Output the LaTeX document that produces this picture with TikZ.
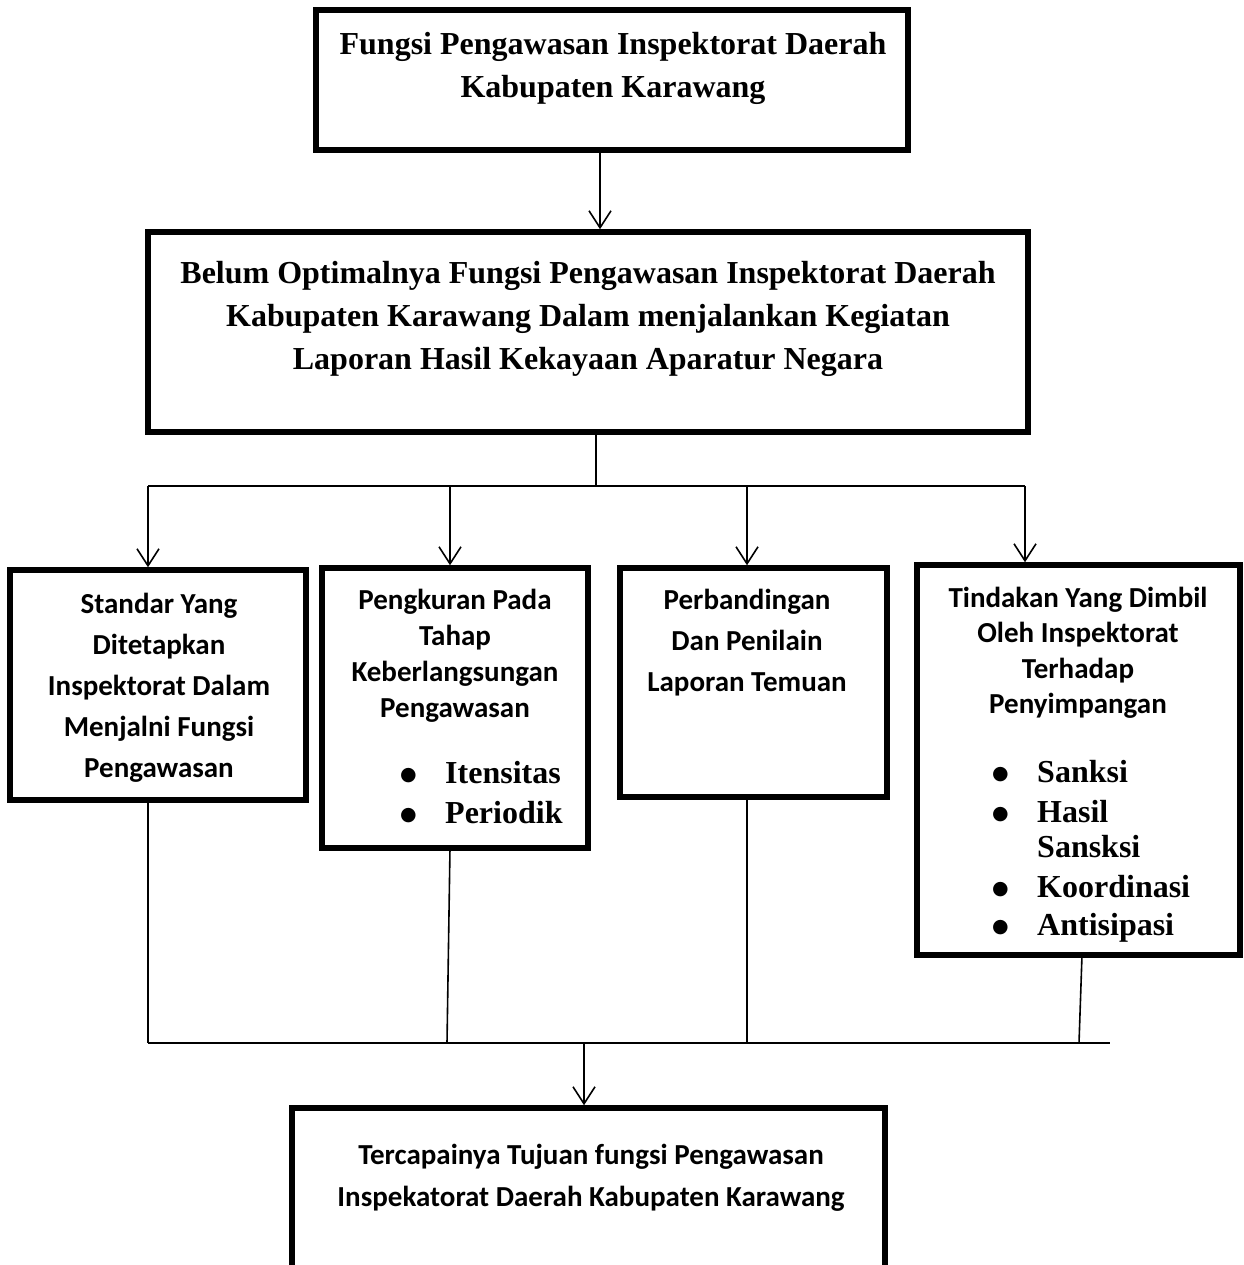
\documentclass[tikz,border=0pt]{standalone}
\usepackage{fontspec}
\setmainfont{Liberation Serif}
\newfontfamily\calfont{Carlito}
\newfontfamily\symfont{DejaVu Sans}
\usetikzlibrary{arrows.meta}
\newcommand{\bb}{\makebox[45pt][l]{\raisebox{3pt}{\symfont\fontsize{19}{19}\selectfont ●}}}
\begin{document}
\begin{tikzpicture}[x=1pt,y=-1pt,
  box/.style={draw, line width=5.5pt, rectangle, inner sep=0pt},
  conn/.style={line width=1.6pt},
  arr/.style={conn, -{Straight Barb[length=17pt,width=22pt,line width=1.6pt]}},
  sert/.style={font=\fontsize{32}{43}\selectfont\bfseries, align=center, anchor=base, inner sep=0pt},
  sant/.style={font=\calfont\fontsize{29}{41}\selectfont\bfseries, align=center, anchor=base, inner sep=0pt},
  bul/.style={font=\fontsize{32}{40}\selectfont\bfseries, align=left, anchor=base west, inner sep=0pt},
]
\useasboundingbox (0,0) rectangle (1243,1265);
\fill[white] (0,0) rectangle (1243,1265);

% boxes
\node[box, minimum width=592, minimum height=140] (top) at (612,80) {};
\node[box, minimum width=880, minimum height=200] (mid) at (588,332) {};
\node[box, minimum width=296, minimum height=230] (bA) at (158,685) {};
\node[box, minimum width=266, minimum height=280] (bB) at (455,708) {};
\node[box, minimum width=267, minimum height=229] (bC) at (753.5,682.5) {};
\node[box, minimum width=323, minimum height=390] (bD) at (1078.5,760) {};
\node[box, minimum width=593, minimum height=184] (bot) at (588.5,1200) {};

% texts (base anchor = baseline of last line)
\node[sert] (ttop) at (613,98) {Fungsi Pengawasan Inspektorat Daerah\\Kabupaten Karawang};
\node[sert] (tmid) at (588,369) {Belum Optimalnya Fungsi Pengawasan Inspektorat Daerah\\Kabupaten Karawang Dalam menjalankan Kegiatan\\Laporan Hasil Kekayaan Aparatur Negara};
\node[sant] (tA) at (159,777) {Standar Yang\\Ditetapkan\\Inspektorat Dalam\\Menjalni Fungsi\\Pengawasan};
\node[sant, font=\calfont\fontsize{29}{36}\selectfont\bfseries] (tB) at (455,717) {Pengkuran Pada\\Tahap\\Keberlangsungan\\Pengawasan};
\node[bul] (lB) at (400,823) {\bb Itensitas\\\bb Periodik};
\node[sant] (tC) at (747,691) {Perbandingan\\Dan Penilain\\Laporan Temuan};
\node[sant, font=\calfont\fontsize{29}{35.5}\selectfont\bfseries] (tD) at (1078,713.5) {Tindakan Yang Dimbil\\Oleh Inspektorat\\Terhadap\\Penyimpangan};
\node[bul, font=\fontsize{32}{35}\selectfont\bfseries] (lD) at (992,935) {\bb Sanksi\\[5pt]\bb Hasil\\\makebox[45pt][l]{}Sansksi\\[5pt]\bb Koordinasi\\[3pt]\bb Antisipasi};
\node[sant, font=\calfont\fontsize{29}{42}\selectfont\bfseries] (tbot) at (591,1206) {Tercapainya Tujuan fungsi Pengawasan\\Inspekatorat Daerah Kabupaten Karawang};

% connectors top
\coordinate (a0) at (600,150);
\draw[arr] (a0 |- top.south) -- (a0 |- mid.north);
\coordinate (s0) at (596,486);
\coordinate (sA) at (148,486);
\coordinate (sB) at (450,486);
\coordinate (sC) at (747,486);
\coordinate (sD) at (1025,486);
\draw[conn] (mid.south -| s0) -- (s0);
\draw[conn] (sA) -- (sD);
\draw[arr] (sA) -- (sA |- bA.north);
\draw[arr] (sB) -- (sB |- bB.north);
\draw[arr] (sC) -- (sC |- bC.north);
\draw[arr] (sD) -- (sD |- bD.north);

% connectors bottom
\coordinate (jA) at (148,1043);
\coordinate (jB) at (447,1043);
\coordinate (jC) at (747,1043);
\coordinate (jD) at (1079,1043);
\coordinate (jE) at (1110,1043);
\coordinate (j0) at (584,1043);
\draw[conn] (jA |- bA.south) -- (jA);
\draw[conn] (450,848) -- (jB);
\draw[conn] (jC |- bC.south) -- (jC);
\draw[conn] (1082,955) -- (jD);
\draw[conn] (jA) -- (jE);
\draw[arr] (j0) -- (j0 |- bot.north);
\end{tikzpicture}
\end{document}
